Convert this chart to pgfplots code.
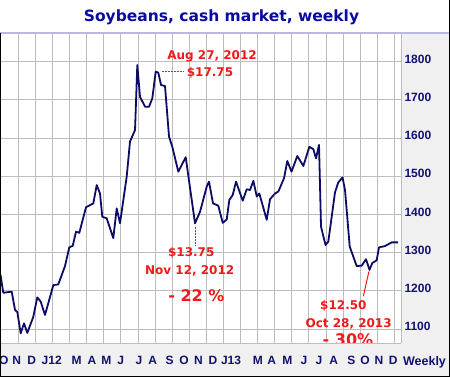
\documentclass[border=0pt]{standalone}
\usepackage{fontspec}
\setmainfont{Liberation Sans}
\newfontfamily\dejavu{DejaVu Sans}
\usepackage{pgfplots}
\pgfplotsset{compat=1.18}
\definecolor{bggray}{HTML}{F0F0F0}
\definecolor{gridgray}{HTML}{BDBDBD}
\definecolor{lav}{HTML}{B8B8E6}
\definecolor{navy}{HTML}{12126E}
\definecolor{ttl}{HTML}{0A0AA0}
\definecolor{linec}{HTML}{0C0C66}
\definecolor{ared}{HTML}{F01A1A}
\begin{document}
\begin{tikzpicture}[x=1pt,y=1pt]
\fill[bggray] (0,0) rectangle (450,377);
\useasboundingbox (0,0) rectangle (450,377);
\fill[white] (0,344) rectangle (450,377);
\begin{axis}[at={(0pt,34pt)}, anchor=south west, width=401pt, height=310pt, scale only axis,
  xmin=2.82, xmax=117.13, ymin=1063.6, ymax=1875,
  axis background/.style={fill=white},
  axis line style={draw=none},
  major tick length=0pt, minor tick length=0pt,
  ytick={1100,1200,1300,1400,1500,1600,1700,1800},
  yticklabel pos=right,
  ymajorgrids, xmajorgrids=false, xminorgrids,
  grid style={gridgray, line width=0.8pt},
  minor grid style={gridgray, line width=0.8pt},
  xtick={3.88,7.58,11.86,17.56,24.69,29.05,33.12,37.23,42.45,46.38,51.20,55.27,59.41,63.54,68.68,76.31,80.28,84.72,89.48,93.76,97.98,102.97,106.88,110.86,114.94},
  xticklabels={O,N,D,J12,M,A,M,J,J,A,S,O,N,D,J13,M,A,M,J,J,A,S,O,N,D},
  minor xtick={8.04,12.91,17.78,22.65,27.53,32.40,37.27,42.14,47.01,51.89,56.76,61.63,66.50,71.37,76.25,81.12,85.99,90.86,95.73,100.61,105.48,110.35,115.22},
  /pgf/number format/1000 sep={},
  /pgf/number format/assume math mode=true,
  scaled y ticks=false,
  tick label style={font=\fontsize{12}{14}\selectfont\bfseries, text=navy},
  yticklabel style={anchor=west, yshift=2.5pt},
  xticklabel style={anchor=base, yshift=-22pt},
]
\addplot[linec, line width=1.8pt, line join=round, no marks] coordinates {
(2.96,1242) (3.76,1195) (6.16,1198) (7.10,1150) (7.75,1145) (8.72,1089) (9.66,1115) (10.60,1090) (12.31,1132) (13.45,1183) (14.42,1172) (15.65,1137) (18.02,1215) (19.44,1217) (21.35,1265) (22.58,1314) (23.55,1318) (24.49,1355) (25.43,1352) (27.34,1419) (29.42,1429) (30.39,1477) (31.33,1455) (31.98,1394) (33.24,1390) (35.12,1338) (36.09,1416) (37.03,1377) (38.94,1499) (39.88,1591) (41.31,1621) (41.96,1791) (42.73,1708) (44.16,1682) (45.30,1682) (46.24,1704) (47.21,1774) (47.95,1771) (48.72,1739) (49.86,1736) (51.00,1604) (51.94,1577) (53.65,1512) (55.76,1550) (58.41,1377) (59.84,1407) (61.75,1473) (62.40,1486) (63.54,1429) (65.05,1423) (66.31,1378) (67.45,1387) (68.19,1438) (69.16,1451) (70.10,1486) (72.01,1436) (73.15,1466) (74.09,1464) (75.04,1488) (76.01,1447) (76.74,1455) (78.85,1386) (79.80,1440) (81.22,1455) (82.16,1460) (83.79,1495) (84.72,1540) (85.92,1512) (87.57,1553) (89.29,1527) (91.00,1577) (92.14,1571) (92.90,1547) (93.76,1582) (94.33,1368) (95.61,1320) (96.41,1329) (98.32,1458) (99.26,1484) (100.46,1497) (101.17,1464) (102.51,1316) (104.50,1265) (105.93,1266) (107.16,1283) (108.15,1255) (108.95,1273) (110.20,1280) (110.86,1314) (112.49,1317) (114.49,1327) (116.28,1327)
};
\draw[ared, line width=1pt, dash pattern=on 2pt off 1pt] (axis cs:48.9,1774) -- (axis cs:55.4,1774);
\draw[ared, line width=1pt, dash pattern=on 2pt off 1pt] (axis cs:58.6,1367) -- (axis cs:58.6,1317);
\draw[ared, line width=1pt] (axis cs:107.99,1251) -- (axis cs:106.4,1186);
\node[ared, font=\dejavu\bfseries\fontsize{12}{14}\selectfont] at (axis cs:63.26,1813) {Aug 27, 2012};
\node[ared, font=\dejavu\bfseries\fontsize{12}{14}\selectfont] at (axis cs:62.69,1770) {\$17.75};
\node[ared, font=\dejavu\bfseries\fontsize{12}{14}\selectfont] at (axis cs:57.33,1300) {\$13.75};
\node[ared, font=\dejavu\bfseries\fontsize{12}{14}\selectfont] at (axis cs:56.9,1252) {Nov 12, 2012};
\node[ared, font=\dejavu\bfseries\fontsize{16}{18}\selectfont] at (axis cs:58.8,1187) {- 22 \%};
\node[ared, font=\dejavu\bfseries\fontsize{12}{14}\selectfont] at (axis cs:100.7,1160) {\$12.50};
\node[ared, font=\dejavu\bfseries\fontsize{12}{14}\selectfont] at (axis cs:102.2,1114) {Oct 28, 2013};
\node[ared, font=\dejavu\bfseries\fontsize{16}{18}\selectfont] at (axis cs:102.0,1072) {- 30\%};
\end{axis}
\draw[gridgray, line width=0.8pt] (0,34) -- (401,34);
\draw[gridgray, line width=0.8pt] (401,34) -- (401,344);
\draw[lav, line width=1.5pt] (0,344) -- (450,344);
\node[ttl, font=\dejavu\bfseries\fontsize{15.5}{18}\selectfont, anchor=base] at (221.5,355) {Soybeans, cash market, weekly};
\node[navy, font=\fontsize{12.5}{14}\selectfont\bfseries, anchor=base] at (424.5,11.5) {Weekly};
\draw[black, line width=1pt] (0.5,0) -- (0.5,344);
\draw[black, line width=1pt] (0,0.5) -- (450,0.5);
\draw[black, line width=1pt] (449.5,0) -- (449.5,377);
\end{tikzpicture}
\end{document}
